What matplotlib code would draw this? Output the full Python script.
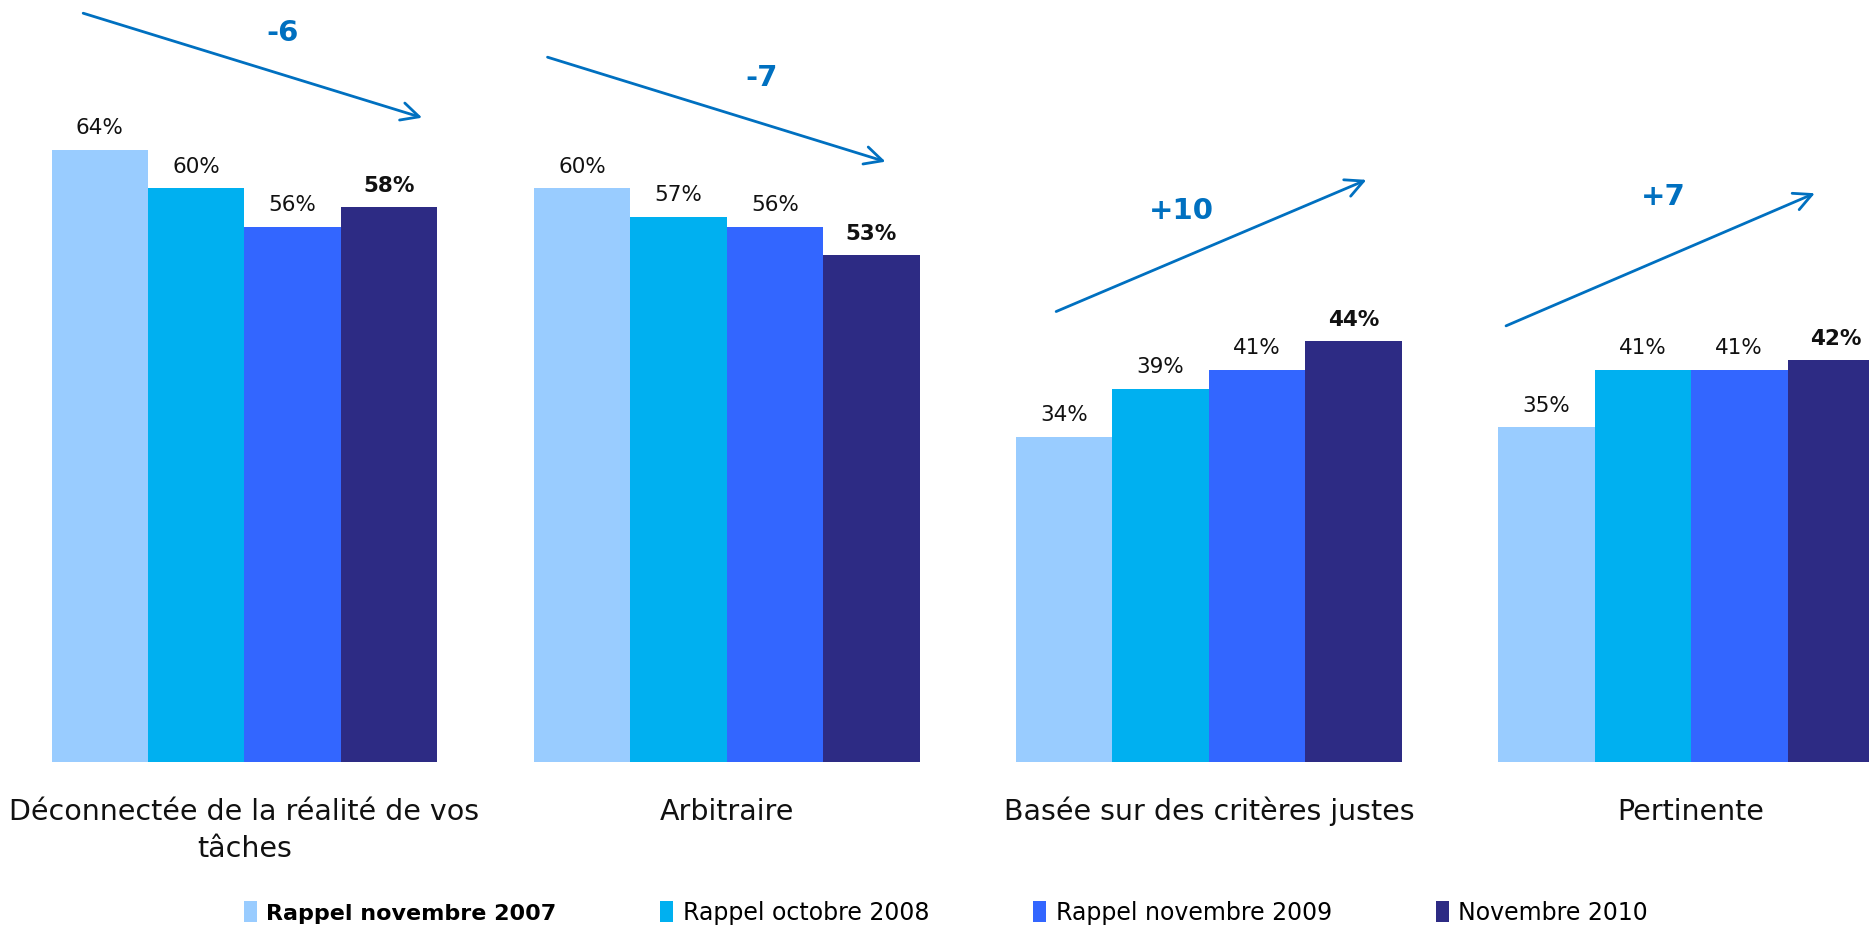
import matplotlib.pyplot as plt
import numpy as np

categories = ["Déconnectée de la réalité de vos\ntâches", "Arbitraire",
              "Basée sur des critères justes", "Pertinente"]
series_names = ["Rappel novembre 2007", "Rappel octobre 2008",
                "Rappel novembre 2009", "Novembre 2010"]
v2007 = [64, 60, 34, 35]
v2008 = [60, 57, 39, 41]
v2009 = [56, 56, 41, 41]
v2010 = [58, 53, 44, 42]
deltas = ["-6", "-7", "+10", "+7"]

colors = ["#99CCFF", "#00B0F0", "#3366FF", "#2D2B84"]
blue = "#0070C0"

# arrow layout (start, end) in data coords, and delta label position
arrows = [((-0.34, 78.4), (0.374, 67.3)),
          ((0.623, 73.8), (1.335, 62.7)),
          ((1.678, 47.0), (2.332, 61.0)),
          ((2.611, 45.5), (3.262, 59.6))]
delta_pos = [(0.08, 76.4), (1.073, 71.6), (1.944, 57.7), (2.942, 59.2)]

fig = plt.figure(figsize=(18.69, 9.29), dpi=100)
ax = fig.add_axes([0, 0.1787, 1, 0.8213])
ax.set_xlim(-0.507, 3.369)
ax.set_ylim(0, 79.8)
ax.axis("off")

x = np.arange(len(categories))
w = 0.2
handles = []
for i, vals in enumerate([v2007, v2008, v2009, v2010]):
    bars = ax.bar(x + (i - 1.5) * w, vals, w, color=colors[i], label=series_names[i])
    handles.append(bars)
    for xi, v in zip(x, vals):
        ax.annotate(f"{v}%", (xi + (i - 1.5) * w, v), xytext=(0, 12),
                    textcoords="offset points", ha="center", va="baseline",
                    fontsize=15.5, color="#111111",
                    fontweight="bold" if i == 3 else "normal")

# baseline goes with the last line of a label
for xi, cat in zip(x, categories):
    nlines = cat.count("\n")
    ax.text(xi, -0.0747 - 0.0485 * nlines, cat, transform=ax.get_xaxis_transform(),
            ha="center", va="baseline", fontsize=20.5, color="#111111",
            linespacing=1.39)

for (s, e), (tx, ty), d in zip(arrows, delta_pos, deltas):
    ax.annotate("", xy=e, xytext=s,
                arrowprops=dict(arrowstyle="->", color=blue, lw=2, mutation_scale=32))
    ax.text(tx, ty, d, ha="center", va="center", fontsize=21,
            fontweight="bold", color=blue)

leg = fig.legend(handles=handles, labels=series_names, loc="center",
                 bbox_to_anchor=(0.506, 0.017), ncol=4, frameon=False,
                 fontsize=17, handlelength=0.55, handleheight=1.0,
                 handletextpad=0.4, columnspacing=4.4)
leg.get_texts()[0].set_fontweight("bold")
leg.get_texts()[0].set_fontsize(16)

fig.savefig("out.png", dpi=100)
